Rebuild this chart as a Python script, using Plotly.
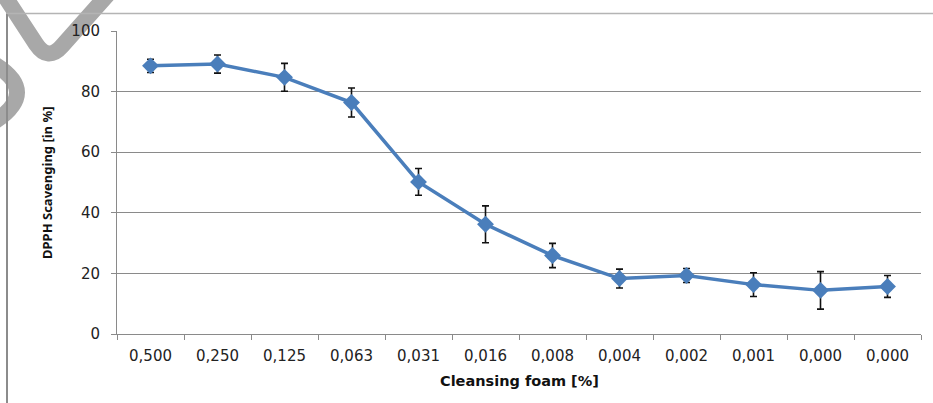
import plotly.graph_objects as go

# ---- data ----
labels = ["0,500", "0,250", "0,125", "0,063", "0,031", "0,016",
          "0,008", "0,004", "0,002", "0,001", "0,000", "0,000"]
scavenging = [88.5, 89.1, 84.7, 76.4, 50.2, 36.2, 25.9, 18.3, 19.3, 16.3, 14.4, 15.7]
errors = [2.2, 3.0, 4.6, 4.8, 4.4, 6.1, 4.0, 3.1, 2.3, 3.9, 6.2, 3.6]
y_ticks = [0, 20, 40, 60, 80, 100]

W, H = 933, 403
L, R, T, B = 117, 12, 31, 69
PW, PH = W - L - R, H - T - B


def px(x, y):
    return (x - L) / PW, (H - B - y) / PH


def path(points_cmds):
    out = []
    for cmd, pts in points_cmds:
        coords = []
        for (x, y) in pts:
            a, b = px(x, y)
            coords.append(f"{a:.5f},{b:.5f}")
        out.append(cmd + " " + " ".join(coords))
    return " ".join(out)


xs = list(range(len(labels)))

fig = go.Figure()
fig.add_trace(go.Scatter(
    x=xs, y=scavenging,
    mode="lines+markers",
    line=dict(color="#4a7ebb", width=3.5),
    marker=dict(symbol="diamond", size=13, color="#4a7ebb"),
    error_y=dict(type="data", array=errors, visible=True,
                 color="#111111", thickness=1.6, width=3.5),
    showlegend=False,
))
# invisible trace on overlay axis for boundary ticks
fig.add_trace(go.Scatter(x=[-0.5, len(labels) - 0.5], y=[None, None],
                         xaxis="x2", showlegend=False, hoverinfo="skip"))

fig.update_layout(
    width=W, height=H,
    margin=dict(l=L, r=R, t=T, b=B),
    paper_bgcolor="white", plot_bgcolor="white",
    xaxis=dict(
        range=[-0.5, len(labels) - 0.5],
        tickmode="array", tickvals=xs, ticktext=labels,
        ticks="", showgrid=False, zeroline=False,
        showline=True, linecolor="#8a8a8a", linewidth=1,
        tickfont=dict(family="DejaVu Sans", size=15, color="#222222"),
        ticklabelstandoff=8,
    ),
    xaxis2=dict(
        overlaying="x", range=[-0.5, len(labels) - 0.5],
        tickmode="array", tickvals=[i - 0.5 for i in range(len(labels) + 1)],
        showticklabels=False, ticks="outside", ticklen=5, tickcolor="#8a8a8a",
        showgrid=False, zeroline=False, showline=False,
    ),
    yaxis=dict(
        range=[0, 100], tickmode="array", tickvals=y_ticks,
        ticks="outside", ticklen=5, tickcolor="#8a8a8a",
        showgrid=True, gridcolor="#8a8a8a", gridwidth=1,
        zeroline=False, showline=True, linecolor="#8a8a8a", linewidth=1,
        tickfont=dict(family="DejaVu Sans", size=15, color="#222222"),
        ticklabelstandoff=8,
    ),
)

# axis titles
xa, ya = px(519, 381)
fig.add_annotation(text="<b>Cleansing foam [%]</b>", xref="paper", yref="paper",
                   x=xa, y=ya, showarrow=False, xanchor="center", yanchor="middle",
                   font=dict(family="DejaVu Sans", size=14.5, color="#111111"))
xa, ya = px(47, 183)
fig.add_annotation(text="<b>DPPH Scavenging [in %]</b>", xref="paper", yref="paper",
                   x=xa, y=ya, showarrow=False, textangle=-90,
                   xanchor="center", yanchor="middle",
                   font=dict(family="Noto Sans", size=13, color="#111111"))

# watermark fragment (top-left)
fig.add_shape(type="path", xref="paper", yref="paper", layer="below",
              path=path([("M", [(2, -8)]), ("L", [(36, 44)]),
                         ("Q", [(48, 62), (62, 46)]), ("L", [(110, -8)])]),
              line=dict(color="#a8a8a8", width=16))
fig.add_shape(type="path", xref="paper", yref="paper", layer="below",
              path=path([("M", [(-6, 64)]), ("Q", [(40, 92), (-6, 122)])]),
              line=dict(color="#a8a8a8", width=16))

# chart-area border
x0, y0 = px(7, 13.5)
x1, y1 = px(7, 410)
fig.add_shape(type="line", xref="paper", yref="paper", x0=x0, y0=y0, x1=x1, y1=y1,
              line=dict(color="#8c8c8c", width=2))
x2, _ = px(940, 13.5)
fig.add_shape(type="line", xref="paper", yref="paper", x0=x0, y0=y0, x1=x2, y1=y0,
              line=dict(color="#b4b4b4", width=1.5))

fig.write_html("out.html", config={"displayModeBar": False},
               post_script="document.body.style.margin='0';")
